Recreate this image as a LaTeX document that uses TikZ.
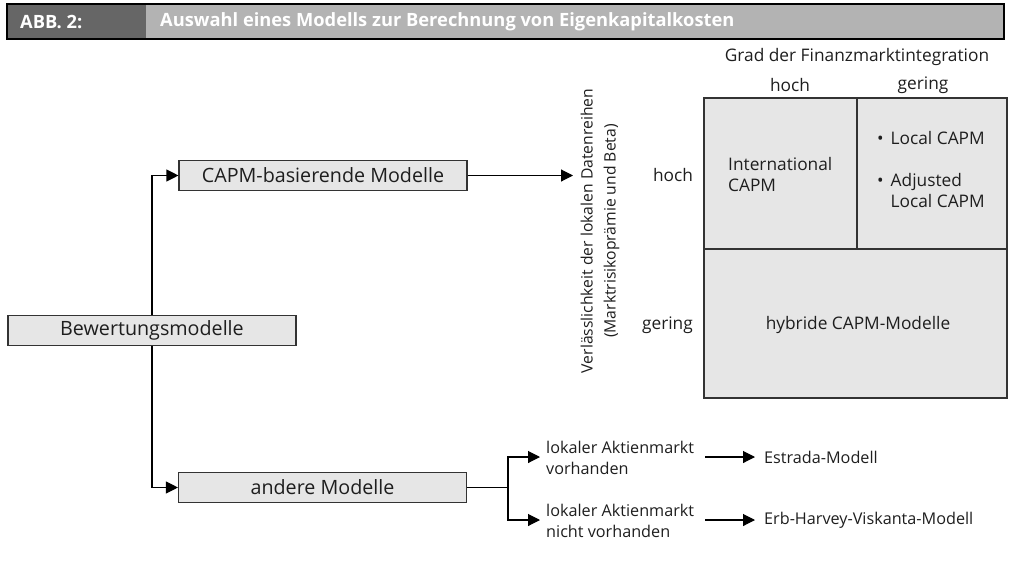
\documentclass[tikz,border=0pt]{standalone}
\usepackage{fontspec}
\setmainfont{Open Sans}
\usetikzlibrary{arrows.meta}
\definecolor{hdrdark}{HTML}{666666}
\definecolor{hdrlight}{HTML}{B3B3B3}
\definecolor{boxfill}{HTML}{E6E6E6}
\definecolor{boxline}{HTML}{333333}
\definecolor{txt}{HTML}{1E1E1E}
\begin{document}
\begin{tikzpicture}[x=1pt,y=-1pt,
  lbl/.style={font=\fontsize{17.3}{21}\selectfont, text=txt, inner sep=0pt},
  sml/.style={font=\fontsize{16.2}{21}\selectfont, text=txt, inner sep=0pt},
  box/.style={draw=boxline, fill=boxfill, line width=1.1pt, minimum width=288pt, minimum height=30pt, inner sep=0pt, font=\fontsize{19.7}{23}\selectfont, text=txt},
  cell/.style={draw=boxline, fill=boxfill, line width=1.1pt, inner sep=0pt},
  arr/.style={-{Triangle[length=12pt,width=12pt]}, line width=1.1pt, draw=black},
  ln/.style={line width=1.1pt, draw=black},
  hdrtext/.style={font=\fontsize{18.3}{21}\selectfont\bfseries, text=white, inner sep=0pt, anchor=west}]
\useasboundingbox (0,0) rectangle (1015,560);
% header
\fill[hdrlight] (7,4) rectangle (1004,39);
\fill[hdrdark] (7,4) rectangle (146,39);
\draw[line width=2.2pt] (7,4) rectangle (1004,39);
\node[hdrtext] (abb) at (20,21.5) {ABB. 2:};
\node[hdrtext] (ttl) at (160,21.5) {Auswahl eines Modells zur Berechnung von Eigenkapitalkosten};
% left tree
\node[box] (bew) at (152,330.5) {Bewertungsmodelle};
\node[box] (capm) at (323,175.5) {CAPM-basierende Modelle};
\node[box] (and) at (322.5,487.5) {andere Modelle};
\draw[arr] (bew.north) |- (capm.west);
\draw[arr] (bew.south) |- (and.west);
% rotated axis label
\node[rotate=90, align=center, font=\fontsize{15.7}{23}\selectfont, text=txt, inner sep=0pt] (vl) at (600,231) {Verlässlichkeit der lokalen Datenreihen\\(Marktrisikoprämie und Beta)};
\coordinate (vt) at (573,175.5);
\draw[arr] (capm.east) -- (vt);
% matrix
\node[cell, minimum width=153pt, minimum height=151pt] (ic) at (780.5,173.5) {};
\node[cell, minimum width=150pt, minimum height=151pt] (lc) at (932,173.5) {};
\node[cell, minimum width=303pt, minimum height=149pt] (hy) at (855.5,323.5) {};
\node[lbl] (grad) at (857,57) {Grad der Finanzmarktintegration};
\node[lbl] (ch) at (790,85) {hoch};
\node[lbl] (cg) at (923,85) {gering};
\node[lbl] (rh) at (673,175) {hoch};
\node[lbl, anchor=east] (rg) at (693,325) {gering};
\node[lbl, align=left, anchor=west] (ict) at (728,175) {International\\CAPM};
\node[lbl, anchor=north west] (lct) at (877,130) {\begin{tabular}{@{}l@{\hspace{7pt}}l@{}}\textbullet & Local CAPM\\[21pt]\textbullet & Adjusted\\ & Local CAPM\end{tabular}};
\node[lbl] (hyt) at (858,325) {hybride CAPM-Modelle};
% lower branch
\coordinate (br) at (508,487.5);
\node[sml, align=left, anchor=west] (lv) at (546,458) {lokaler Aktienmarkt\\vorhanden};
\node[sml, align=left, anchor=west] (ln) at (546,521) {lokaler Aktienmarkt\\nicht vorhanden};
\node[sml, anchor=west] (est) at (764,457) {Estrada-Modell};
\node[sml, anchor=west] (ehv) at (764,520) {Erb-Harvey-Viskanta-Modell};
\draw[ln] (and.east) -- (br);
\draw[arr] (br) |- ([xshift=-6pt]lv.west |- est.west);
\draw[arr] (br) |- ([xshift=-6pt]ln.west |- ehv.west);
\draw[arr] (705,457) -- ([xshift=-9pt]est.west);
\draw[arr] (705,520) -- ([xshift=-9pt]ehv.west);
\end{tikzpicture}
\end{document}
